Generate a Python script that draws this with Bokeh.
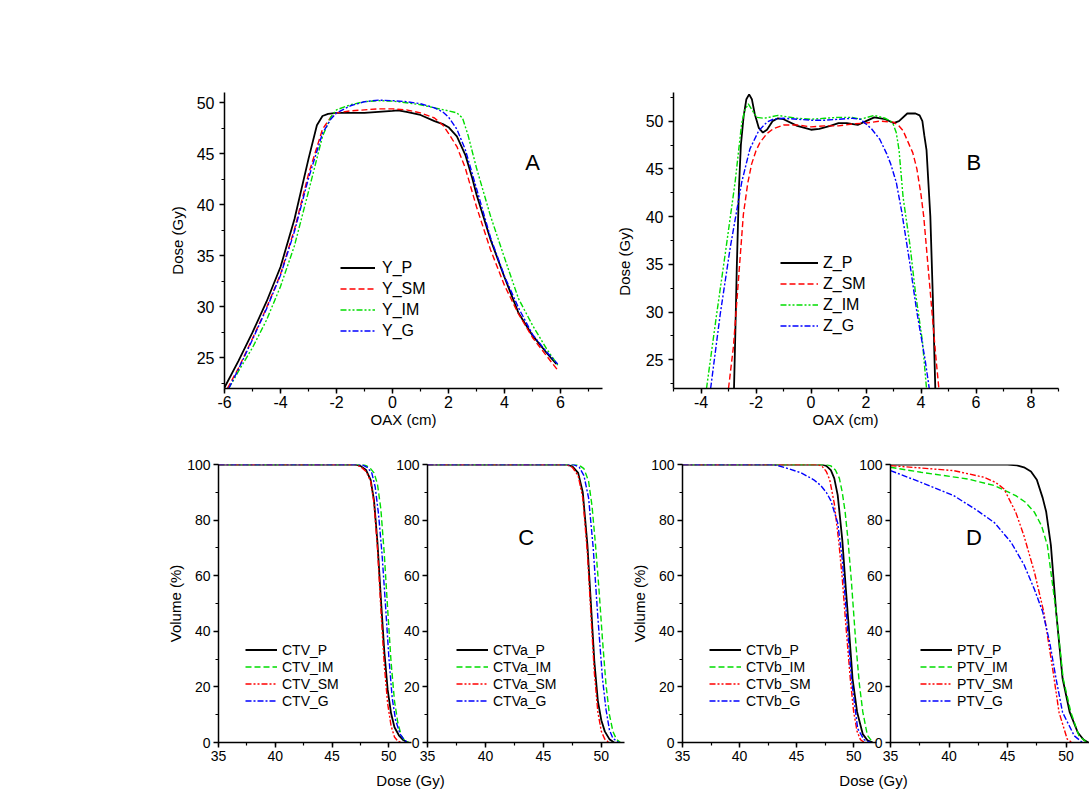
import math
from bokeh.plotting import figure
from bokeh.models import (Range1d, SingleIntervalTicker, Legend, LegendItem, Label,
                          PrintfTickFormatter)
from bokeh.layouts import row, column
from bokeh.embed import file_html
from bokeh.resources import INLINE

FONT = "Liberation Sans"
BLACK, RED, GREEN, BLUE = "#000000", "#ff0000", "#00dd00", "#0000ff"
DASH, DOT2, DOT1 = "6 3", "6 2 2 2 2 2", "6 2 2 2"

# ---------------- Panel A (Y profiles) ----------------
A_x_P = [-6.0, -5.5, -5.0, -4.5, -4.0, -3.5, -3.0, -2.7, -2.5, -2.3, -2.0, -1.5, -1.0, -0.5, 0.0, 0.2, 0.5, 1.0, 1.5, 1.8, 2.0, 2.3, 2.6, 2.85, 3.0, 3.5, 4.0, 4.5, 5.0, 5.5, 5.85]
A_y_P = [22.1, 24.7, 27.5, 30.5, 33.9, 38.6, 44.5, 47.8, 48.7, 48.9, 49.0, 49.0, 49.0, 49.1, 49.2, 49.25, 49.1, 48.8, 48.2, 47.9, 47.6, 46.7, 44.9, 42.6, 41.0, 36.6, 32.9, 29.4, 27.2, 25.5, 24.4]
A_x_SM = [-5.9, -5.5, -5.0, -4.5, -4.0, -3.5, -3.0, -2.5, -2.2, -2.0, -1.5, -1.0, -0.5, 0.0, 0.5, 1.0, 1.5, 1.8, 2.0, 2.3, 2.6, 3.0, 3.5, 4.0, 4.5, 5.0, 5.5, 5.9]
A_y_SM = [22.0, 24.0, 26.9, 29.9, 33.2, 37.6, 43.0, 47.4, 48.6, 49.0, 49.2, 49.3, 49.4, 49.4, 49.3, 49.0, 48.5, 47.8, 47.0, 45.7, 43.6, 39.8, 35.6, 32.1, 29.3, 27.0, 25.2, 23.8]
A_x_IM = [-5.85, -5.5, -5.0, -4.5, -4.0, -3.5, -3.0, -2.5, -2.2, -2.0, -1.5, -1.0, -0.5, 0.0, 0.5, 1.0, 1.5, 2.0, 2.3, 2.5, 2.7, 3.0, 3.5, 4.0, 4.5, 5.0, 5.5, 5.9]
A_y_IM = [22.0, 23.7, 26.0, 28.7, 32.0, 36.0, 41.3, 46.7, 48.6, 49.3, 49.8, 50.1, 50.2, 50.15, 50.0, 49.8, 49.5, 49.2, 49.0, 48.5, 46.8, 43.6, 38.9, 34.8, 30.8, 28.2, 25.9, 24.3]
A_x_G = [-5.85, -5.5, -5.0, -4.5, -4.0, -3.5, -3.0, -2.5, -2.2, -2.0, -1.5, -1.0, -0.5, 0.0, 0.5, 1.0, 1.5, 1.8, 2.0, 2.3, 2.6, 3.0, 3.5, 4.0, 4.5, 5.0, 5.5, 5.9]
A_y_G = [22.0, 23.9, 26.8, 29.8, 33.1, 37.4, 42.6, 47.0, 48.4, 49.0, 49.7, 50.1, 50.25, 50.2, 50.1, 49.9, 49.5, 49.1, 48.6, 47.4, 45.4, 41.6, 36.8, 33.0, 29.9, 27.3, 25.6, 24.4]

# ---------------- Panel B (Z profiles) ----------------
B_x_P = [-2.8, -2.75, -2.7, -2.62, -2.55, -2.45, -2.35, -2.25, -2.15, -2.05, -1.9, -1.75, -1.6, -1.4, -1.2, -1.0, -0.5, 0.0, 0.3, 0.7, 1.0, 1.3, 1.7, 2.0, 2.3, 2.7, 3.0, 3.2, 3.5, 3.8, 3.95, 4.05, 4.12, 4.2, 4.27, 4.34, 4.43, 4.52]
B_y_P = [22.0, 28.0, 34.5, 43.0, 47.5, 50.5, 52.3, 52.8, 52.3, 50.8, 49.3, 48.8, 49.1, 50.0, 50.3, 50.2, 49.5, 49.1, 49.2, 49.5, 49.8, 49.8, 49.6, 50.0, 50.4, 50.2, 49.8, 50.0, 50.8, 50.8, 50.6, 50.0, 48.5, 47.0, 43.5, 40.0, 31.6, 22.0]
B_x_SM = [-3.0, -2.82, -2.64, -2.46, -2.3, -2.16, -2.0, -1.85, -1.6, -1.37, -1.0, -0.5, 0.0, 0.5, 1.0, 1.5, 2.0, 2.5, 3.0, 3.2, 3.35, 3.5, 3.7, 3.85, 4.0, 4.1, 4.25, 4.4, 4.55, 4.65]
B_y_SM = [22.0, 26.4, 33.3, 40.2, 43.5, 45.5, 46.9, 47.8, 48.7, 49.2, 49.6, 49.6, 49.4, 49.5, 49.5, 49.7, 49.8, 50.0, 49.9, 49.5, 49.0, 48.0, 46.7, 45.0, 42.3, 40.0, 35.0, 30.0, 25.0, 22.0]
B_x_IM = [-3.8, -3.43, -3.09, -2.76, -2.52, -2.4, -2.28, -2.15, -1.97, -1.7, -1.2, -0.5, 0.0, 0.5, 1.0, 1.5, 1.8, 2.3, 2.7, 2.9, 3.0, 3.1, 3.2, 3.35, 3.6, 3.8, 4.05, 4.2]
B_y_IM = [22.0, 29.8, 36.7, 43.6, 49.8, 51.2, 51.8, 51.2, 50.4, 50.3, 50.6, 50.3, 50.2, 50.3, 50.4, 50.4, 50.2, 50.6, 50.3, 50.0, 49.6, 48.8, 47.0, 42.0, 37.0, 32.0, 27.0, 22.0]
B_x_G = [-3.65, -3.3, -2.94, -2.52, -2.22, -1.9, -1.6, -1.37, -1.0, -0.5, 0.0, 0.5, 1.0, 1.5, 1.8, 2.0, 2.2, 2.5, 2.75, 2.9, 3.1, 3.3, 3.6, 3.85, 4.15, 4.3]
B_y_G = [22.0, 29.8, 36.7, 43.6, 47.1, 49.0, 49.9, 50.2, 50.3, 50.2, 50.1, 50.1, 50.2, 50.3, 50.2, 49.7, 49.2, 48.1, 46.6, 45.5, 43.6, 40.5, 35.0, 30.0, 25.0, 22.0]

# ---------------- Panel C (DVH: CTV, CTVa) ----------------
CTV_P_d = [35, 47.0, 47.5, 48.0, 48.4, 48.7, 49.0, 49.3, 49.6, 49.9, 50.2, 50.5, 50.9, 51.3, 51.7]
CTV_P_v = [100, 100, 99.5, 98, 94.5, 87, 72, 52, 33, 19, 10.5, 5.5, 2.5, 0.8, 0]
CTV_IM_d = [35, 47.8, 48.3, 48.7, 49.0, 49.3, 49.6, 49.9, 50.2, 50.5, 50.8, 51.1, 51.4, 51.75]
CTV_IM_v = [100, 100, 99, 97, 93, 84, 68, 48, 29, 15, 7, 2.5, 0.7, 0]
CTV_SM_d = [35, 47.0, 47.5, 48.0, 48.4, 48.7, 49.0, 49.3, 49.6, 49.9, 50.2, 50.5, 50.8, 51.1]
CTV_SM_v = [100, 100, 99.3, 97.5, 94, 86, 70, 48, 28, 14, 6, 2, 0.5, 0]
CTV_G_d = [35, 47.6, 48.1, 48.5, 48.8, 49.1, 49.4, 49.7, 50.0, 50.3, 50.6, 51.0, 51.4, 51.75]
CTV_G_v = [100, 100, 99, 97, 92, 82, 68, 50, 31, 16, 8, 3, 0.7, 0]

CTVa_P_d = [35, 47.0, 47.5, 48.0, 48.4, 48.8, 49.1, 49.4, 49.7, 50.0, 50.3, 50.7, 51.1]
CTVa_P_v = [100, 100, 99.3, 97, 90, 71, 50, 29, 15, 8, 4, 1.2, 0]
CTVa_IM_d = [35, 48.0, 48.5, 48.9, 49.2, 49.5, 49.8, 50.1, 50.4, 50.7, 51.0, 51.3, 51.65]
CTVa_IM_v = [100, 100, 98.5, 94, 85, 71, 55, 37, 21, 10, 4, 1.2, 0]
CTVa_SM_d = [35, 47.0, 47.5, 48.0, 48.4, 48.8, 49.1, 49.4, 49.7, 50.0, 50.3, 50.65]
CTVa_SM_v = [100, 100, 99, 96, 88, 68, 46, 25, 11, 4, 1.2, 0]
CTVa_G_d = [35, 47.6, 48.1, 48.5, 48.9, 49.3, 49.7, 50.1, 50.4, 50.7, 51.0, 51.5]
CTVa_G_v = [100, 100, 99, 96, 88, 70, 45, 23, 12, 4.5, 1.5, 0]

# ---------------- Panel D (DVH: CTVb, PTV) ----------------
CTVb_P_d = [35, 47.2, 47.6, 48.0, 48.3, 48.6, 49.0, 49.3, 49.6, 49.9, 50.3, 50.8, 51.2, 51.67]
CTVb_P_v = [100, 100, 99.5, 98, 95, 89, 73, 56, 40, 23, 11, 3, 0.8, 0]
CTVb_IM_d = [35, 47.6, 48.0, 48.4, 48.75, 49.0, 49.25, 49.5, 49.8, 50.2, 50.5, 50.8, 51.2, 51.67]
CTVb_IM_v = [100, 100, 99.5, 98, 95, 90, 83, 73, 58, 35, 21, 11, 2.6, 0]
CTVb_SM_d = [35, 46.8, 47.2, 47.6, 47.9, 48.3, 48.7, 49.0, 49.3, 49.7, 50.0, 50.3, 50.6, 50.94]
CTVb_SM_v = [100, 100, 99.5, 97.5, 94.5, 86, 72, 59, 43, 23, 11, 4, 1, 0]
CTVb_G_d = [35, 43.0, 44.2, 45.4, 46.5, 47.1, 47.6, 48.0, 48.6, 49.0, 49.35, 49.8, 50.35, 50.9, 51.5]
CTVb_G_v = [100, 100, 98.6, 97, 94.5, 92.5, 90, 87, 79, 66, 47, 23, 5, 1, 0]

PTV_P_d = [35, 45.0, 45.8, 46.4, 47.0, 47.5, 48.0, 48.3, 48.7, 49.15, 49.7, 50.3, 51.0, 51.5, 51.9]
PTV_P_v = [100, 100, 99.7, 99, 97.5, 94.5, 88, 83, 71, 47, 23, 11, 3.6, 1, 0]
PTV_IM_d = [35, 37.6, 41.6, 43.9, 45.7, 46.5, 47.3, 47.9, 48.4, 49.15, 49.75, 50.4, 51.1, 51.6, 51.9]
PTV_IM_v = [99, 97.2, 94.8, 92.4, 88.8, 86.5, 82.8, 78, 71, 47, 23, 11, 2.4, 0.6, 0]
PTV_SM_d = [35, 40.4, 43.0, 44.0, 44.7, 45.7, 46.4, 47.3, 48.1, 48.9, 49.4, 50.1, 50.5]
PTV_SM_v = [99.6, 97.8, 95.4, 93.5, 91.2, 82.8, 74.4, 61.2, 46.8, 25.2, 10.8, 1.2, 0]
PTV_G_d = [35, 37.6, 40.4, 42.4, 43.9, 45.3, 46.4, 47.3, 48.0, 48.6, 49.15, 49.7, 50.7, 51.4]
PTV_G_v = [97.8, 93.6, 88.8, 83.5, 79, 72, 64, 55, 47, 36, 22.8, 10.8, 2.4, 0]


def make_fig(w, h, bl, br, bt, bb, xr, yr, xi, yi, fs, xstand, ystand):
    p = figure(width=w, height=h, x_range=Range1d(*xr), y_range=Range1d(*yr),
               output_backend="svg", toolbar_location=None,
               min_border_left=bl, min_border_right=br,
               min_border_top=bt, min_border_bottom=bb)
    p.border_fill_color = None
    p.background_fill_color = None
    p.outline_line_color = None
    p.grid.visible = False
    p.xaxis.ticker = SingleIntervalTicker(interval=xi, num_minor_ticks=2)
    p.yaxis.ticker = SingleIntervalTicker(interval=yi, num_minor_ticks=2)
    p.xaxis.formatter = PrintfTickFormatter(format="%d")
    p.yaxis.formatter = PrintfTickFormatter(format="%d")
    for ax in (p.xaxis[0], p.yaxis[0]):
        ax.axis_line_width = 1.5
        ax.axis_line_color = "black"
        ax.major_tick_line_width = 1.5
        ax.minor_tick_line_width = 1.2
        ax.major_tick_line_color = "black"
        ax.minor_tick_line_color = "black"
        ax.major_tick_out = 5
        ax.major_tick_in = 0
        ax.minor_tick_out = 3
        ax.minor_tick_in = 0
        ax.major_label_text_font = FONT
        ax.major_label_text_font_size = fs
        ax.major_label_text_color = "black"
        ax.axis_label_text_font = FONT
        ax.axis_label_text_font_size = "15px"
        ax.axis_label_text_font_style = "normal"
        ax.axis_label_text_color = "black"
    p.xaxis[0].major_label_standoff = xstand
    p.yaxis[0].major_label_standoff = ystand
    return p


def add_legend(p, items, loc, fs, gw, gh, sp, standoff):
    leg = Legend(items=[LegendItem(label=l, renderers=[r]) for l, r in items],
                 location=loc, padding=0, margin=0, spacing=sp,
                 glyph_width=gw, glyph_height=gh, label_height=gh,
                 label_standoff=standoff, label_text_font=FONT,
                 label_text_font_size=fs, label_text_color="black",
                 background_fill_alpha=0, border_line_alpha=0)
    p.add_layout(leg)


def txt(p, x, y, t, size, angle=0.0):
    p.add_layout(Label(x=x, y=y, text=t, text_font=FONT, text_font_size=size,
                       text_color="black", text_align="center",
                       text_baseline="middle", angle=angle))


# ---- A ----
pA = make_fig(606, 440, 224, 4, 92, 52, (-6, 7.5), (22, 51), 2, 5, "16px", 2, 5)
pA.yaxis[0].axis_label = "Dose (Gy)"
pA.yaxis[0].axis_label_standoff = 8
rA = [
    ("Y_P", pA.line(A_x_P, A_y_P, line_color=BLACK, line_width=1.8)),
    ("Y_SM", pA.line(A_x_SM, A_y_SM, line_color=RED, line_width=1.4, line_dash=DASH)),
    ("Y_IM", pA.line(A_x_IM, A_y_IM, line_color=GREEN, line_width=1.4, line_dash=DOT2)),
    ("Y_G", pA.line(A_x_G, A_y_G, line_color=BLUE, line_width=1.4, line_dash=DOT1)),
]
add_legend(pA, rA, (116, 48), "16px", 35, 19, 2, 7)
txt(pA, 5.0, 44.14, "A", "22px")

# ---- B ----
pB = make_fig(483, 440, 67, 31, 90, 51, (-5, 9), (22, 53), 2, 5, "16px", 2, 5)
rB = [
    ("Z_P", pB.line(B_x_P, B_y_P, line_color=BLACK, line_width=1.8)),
    ("Z_SM", pB.line(B_x_SM, B_y_SM, line_color=RED, line_width=1.4, line_dash=DASH)),
    ("Z_IM", pB.line(B_x_IM, B_y_IM, line_color=GREEN, line_width=1.4, line_dash=DOT2)),
    ("Z_G", pB.line(B_x_G, B_y_G, line_color=BLUE, line_width=1.4, line_dash=DOT1)),
]
add_legend(pB, rB, (107, 53), "16px", 38, 19, 2, 5)
txt(pB, 5.92, 45.64, "B", "22px")


def dvh(p, names, series, loc):
    styles = [(BLACK, 1.8, None), (GREEN, 1.4, DASH), (RED, 1.4, DOT2), (BLUE, 1.4, DOT1)]
    items = []
    for name, (d, v), (c, lw, dash) in zip(names, series, styles):
        if dash is None:
            r = p.line(d, v, line_color=c, line_width=lw)
        else:
            r = p.line(d, v, line_color=c, line_width=lw, line_dash=dash)
        items.append((name, r))
    add_legend(p, items, loc, "14px", 32, 17, 0, 5)


# ---- C ----
pC1 = make_fig(412, 327, 218, 1, 24, 25, (35, 52), (0, 100), 5, 20, "14px", 3, 3)
pC1.yaxis[0].axis_label = "Volume (%)"
pC1.yaxis[0].axis_label_standoff = 0
dvh(pC1, ["CTV_P", "CTV_IM", "CTV_SM", "CTV_G"],
    [(CTV_P_d, CTV_P_v), (CTV_IM_d, CTV_IM_v), (CTV_SM_d, CTV_SM_v), (CTV_G_d, CTV_G_v)], (27, 33))

pC2 = make_fig(240, 327, 39, 4, 24, 25, (35, 52), (0, 100), 5, 20, "14px", 3, 3)
pC2.margin = (0, 0, 0, -24)
dvh(pC2, ["CTVa_P", "CTVa_IM", "CTVa_SM", "CTVa_G"],
    [(CTVa_P_d, CTVa_P_v), (CTVa_IM_d, CTVa_IM_v), (CTVa_SM_d, CTVa_SM_v), (CTVa_G_d, CTVa_G_v)], (29, 33))
txt(pC2, 43.52, 73.85, "C", "22px")

# ---- D ----
pD1 = make_fig(249, 327, 54, 1, 24, 25, (35, 52), (0, 100), 5, 20, "14px", 3, 3)
pD1.yaxis[0].axis_label = "Volume (%)"
pD1.yaxis[0].axis_label_standoff = 0
dvh(pD1, ["CTVb_P", "CTVb_IM", "CTVb_SM", "CTVb_G"],
    [(CTVb_P_d, CTVb_P_v), (CTVb_IM_d, CTVb_IM_v), (CTVb_SM_d, CTVb_SM_v), (CTVb_G_d, CTVb_G_v)], (27, 33))

pD2 = make_fig(237, 327, 38, 0, 24, 25, (35, 52), (0, 100), 5, 20, "14px", 3, 3)
pD2.margin = (0, 0, 0, -25)
dvh(pD2, ["PTV_P", "PTV_IM", "PTV_SM", "PTV_G"],
    [(PTV_P_d, PTV_P_v), (PTV_IM_d, PTV_IM_v), (PTV_SM_d, PTV_SM_v), (PTV_G_d, PTV_G_v)], (30, 33))
txt(pD2, 42.12, 73.85, "D", "22px")

# ---- transparent overlay carrying the free-standing axis titles (page pixel space) ----
ov = figure(width=1089, height=790, x_range=Range1d(0, 1089), y_range=Range1d(790, 0),
            output_backend="svg", toolbar_location=None, min_border=0, title=None,
            x_axis_type=None, y_axis_type=None)
ov.border_fill_color = None
ov.background_fill_color = None
ov.outline_line_color = None
ov.grid.visible = False
ov.margin = (-767, 0, 0, 0)
txt(ov, 403, 419, "OAX (cm)", "15px")
txt(ov, 845, 419, "OAX (cm)", "15px")
txt(ov, 624, 261, "Dose (Gy)", "15px", angle=math.pi / 2)
txt(ov, 410, 780, "Dose (Gy)", "15px")
txt(ov, 873, 780, "Dose (Gy)", "15px")

layout = column(row(pA, pB), row(pC1, pC2, pD1, pD2), ov)
open("out.html", "w").write(file_html(layout, INLINE))
